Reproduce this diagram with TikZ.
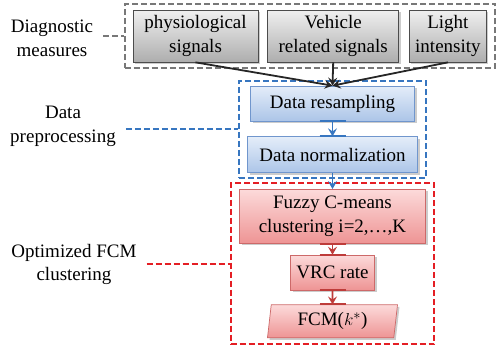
\documentclass[tikz,border=0pt]{standalone}
\usepackage{fontspec}
\setmainfont{Liberation Serif}
\usetikzlibrary{positioning,fit,shadows,shapes.geometric,arrows.meta}

\definecolor{framegray}{RGB}{120,120,120}
\definecolor{frameblue}{RGB}{55,118,192}
\definecolor{framered}{RGB}{228,30,36}
\definecolor{linkred}{RGB}{190,60,58}
\definecolor{edgeblue}{RGB}{112,150,205}
\definecolor{edgered}{RGB}{205,105,105}

\begin{document}
\begin{tikzpicture}[
x=1pt,y=-1pt,
font=\fontsize{19}{23.5}\selectfont,
box/.style={
  draw,
  align=center,
  inner sep=2pt,
  line width=0.7pt,
  drop shadow={shadow xshift=2pt,shadow yshift=-2pt,opacity=0.4}
},
gbox/.style={
  box,
  draw=black!70,
  top color=black!6,
  bottom color=black!32
},
bbox/.style={
  box,
  draw=edgeblue,
  top color={rgb,255:red,228;green,237;blue,249},
  bottom color={rgb,255:red,172;green,197;blue,232}
},
rbox/.style={
  box,
  draw=edgered,
  top color={rgb,255:red,252;green,218;blue,218},
  bottom color={rgb,255:red,238;green,148;blue,148}
},
group/.style={
  draw,
  line width=2pt,
  dash pattern=on 6pt off 3pt
},
tag/.style={
  align=center,
  inner xsep=0pt
},
link/.style={
  line width=2pt,
  dash pattern=on 6pt off 3pt,
  shorten <=10pt
},
flow/.style={
  -{Stealth[length=8pt,width=9pt,inset=3pt]},
  line width=1.8pt
},
port/.style={
  line width=2pt
},
node distance=15pt
]
\node[gbox,minimum width=125pt,minimum height=52pt] at (195.5,36)
  (phys) {physiological\\signals};
\node[gbox,minimum width=131pt,minimum height=52pt,right=9pt of phys]
  (veh) {Vehicle\\related signals};
\node[gbox,minimum width=77pt,minimum height=52pt,right=10pt of veh]
  (light) {Light\\intensity};

\node[bbox,minimum width=164pt,minimum height=35pt] at (332.5,103.5)
  (resamp) {Data resampling};
\node[bbox,minimum width=170pt,minimum height=36pt,below=15pt of resamp]
  (norm) {Data normalization};

\node[rbox,minimum width=186pt,minimum height=54pt,below=16pt of norm]
  (fcm) {Fuzzy C-means\\clustering i=2,…,K};
\node[rbox,minimum width=84pt,minimum height=35pt,below=11pt of fcm]
  (vrc) {VRC rate};
\node[rbox,trapezium,trapezium left angle=80,trapezium right angle=100,
  trapezium stretches body,minimum width=130pt,minimum height=33pt,below=14pt of vrc]
  (best) {FCM($k^{*}$)};

\node[group,draw=framegray,fit=(phys)(veh)(light),inner xsep=8pt,inner ysep=6pt] (diag) {};
\node[group,draw=frameblue,fit=(resamp)(norm),inner xsep=8pt,inner ysep=5pt] (prep) {};
\node[group,draw=framered,fit=(fcm)(vrc)(best),inner xsep=8.5pt,inner ysep=6pt] (clus) {};

\node[tag] at (52,38.5) (diagtxt) {Diagnostic\\measures};
\node[tag] at (63,126.5) (preptxt) {Data\\preprocessing};
\node[tag] at (74,264.5) (clustxt) {Optimized FCM\\clustering};

\draw[link,framegray] (diagtxt.east |- diag.west) -- (diag.west);
\draw[link,frameblue] (preptxt.east |- prep.west) -- (prep.west);
\draw[link,framered] (clustxt.east |- clus.west) -- (clus.west);

\foreach \a/\b/\c in {resamp/norm/frameblue,fcm/vrc/linkred,vrc/best/linkred} {
  \draw[port,\c] ([xshift=-13pt]\a.south) -- ([xshift=13pt]\a.south);
  \draw[port,\c] ([xshift=-13pt]\b.north) -- ([xshift=13pt]\b.north);
}

\draw[flow,black!85] (phys.south) -- (resamp.north);
\draw[flow,black!85] (veh.south) -- (resamp.north);
\draw[flow,black!85] (light.south) -- (resamp.north);
\draw[flow,frameblue] (resamp) -- (norm);
\draw[flow,frameblue] (norm) -- (fcm);
\draw[flow,linkred] (fcm) -- (vrc);
\draw[flow,linkred] (vrc) -- (best);

\useasboundingbox (0,0) rectangle (497,348);
\end{tikzpicture}
\end{document}
